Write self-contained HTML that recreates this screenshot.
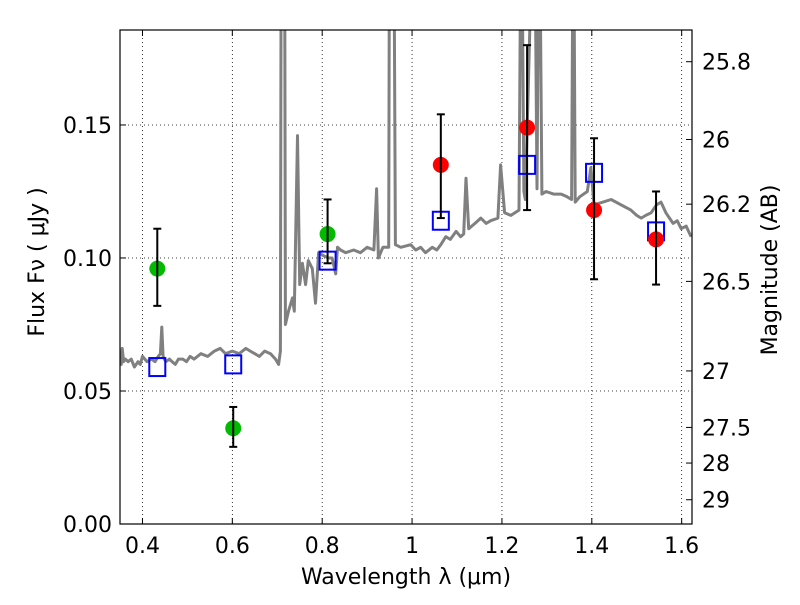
<!DOCTYPE html>
<html><head><meta charset="utf-8"><style>
body{margin:0;background:#fff;}
svg text{font-family:"DejaVu Sans","Liberation Sans",sans-serif;font-size:22px;fill:#000;}
</style></head><body>
<svg id="chart" width="800" height="600"></svg>
<script>
const specLam=[0.350,0.353,0.355,0.358,0.362,0.368,0.375,0.382,0.390,0.395,0.400,0.410,0.420,0.428,0.435,0.440,0.443,0.446,0.452,0.460,0.466,0.473,0.480,0.490,0.498,0.506,0.515,0.530,0.545,0.560,0.573,0.585,0.600,0.615,0.630,0.640,0.650,0.660,0.672,0.685,0.696,0.703,0.707,0.709,0.716,0.718,0.725,0.734,0.738,0.745,0.750,0.756,0.763,0.769,0.778,0.785,0.792,0.801,0.814,0.822,0.830,0.834,0.841,0.852,0.870,0.885,0.900,0.915,0.921,0.925,0.935,0.948,0.950,0.959,0.963,0.975,0.997,1.008,1.019,1.030,1.045,1.055,1.064,1.075,1.085,1.098,1.108,1.115,1.120,1.126,1.140,1.153,1.165,1.175,1.191,1.197,1.206,1.220,1.238,1.243,1.249,1.252,1.272,1.278,1.283,1.289,1.298,1.315,1.332,1.345,1.355,1.359,1.363,1.373,1.390,1.398,1.405,1.425,1.443,1.465,1.487,1.500,1.510,1.520,1.532,1.544,1.554,1.565,1.573,1.581,1.590,1.599,1.610,1.621];
const specFlux=[0.063,0.060,0.066,0.061,0.062,0.061,0.062,0.059,0.061,0.060,0.063,0.061,0.062,0.061,0.063,0.064,0.074,0.063,0.061,0.062,0.061,0.060,0.062,0.062,0.061,0.063,0.062,0.064,0.063,0.065,0.066,0.064,0.065,0.064,0.066,0.065,0.064,0.063,0.065,0.064,0.062,0.060,0.065,0.25,0.25,0.075,0.080,0.085,0.080,0.146,0.090,0.098,0.090,0.099,0.096,0.083,0.102,0.101,0.100,0.100,0.094,0.104,0.103,0.102,0.103,0.102,0.104,0.103,0.126,0.100,0.104,0.104,0.25,0.25,0.105,0.104,0.105,0.103,0.104,0.102,0.104,0.103,0.105,0.108,0.107,0.110,0.108,0.109,0.130,0.111,0.113,0.115,0.113,0.114,0.115,0.135,0.117,0.116,0.118,0.25,0.125,0.122,0.25,0.126,0.25,0.124,0.125,0.124,0.124,0.123,0.122,0.25,0.121,0.123,0.125,0.134,0.120,0.121,0.122,0.120,0.118,0.116,0.115,0.116,0.117,0.120,0.121,0.117,0.115,0.113,0.114,0.111,0.112,0.108];
const greenLam=[0.433,0.602,0.812];
const greenFlux=[0.096,0.036,0.109];
const greenLo=[0.082,0.029,0.098];
const greenHi=[0.111,0.044,0.122];
const redLam=[1.064,1.256,1.405,1.543];
const redFlux=[0.135,0.149,0.118,0.107];
const redLo=[0.115,0.118,0.092,0.090];
const redHi=[0.154,0.180,0.145,0.125];
const blueLam=[0.433,0.602,0.812,1.064,1.256,1.405,1.543];
const blueFlux=[0.059,0.060,0.099,0.114,0.135,0.132,0.110];
const xTicks=[0.4,0.6,0.8,1.0,1.2,1.4,1.6];
const xTickLabels=["0.4","0.6","0.8","1","1.2","1.4","1.6"];
const yTicks=[0,0.05,0.10,0.15];
const yTickLabels=["0.00","0.05","0.10","0.15"];
const magTicks=[25.8,26,26.2,26.5,27,27.5,28,29];
const magTickLabels=["25.8","26","26.2","26.5","27","27.5","28","29"];

const L=120,R=692,T=30,B=524;
const xMin=0.35,xMax=1.623,yMin=0,yMax=0.1857;
const sx=v=>L+(v-xMin)/(xMax-xMin)*(R-L);
const sy=v=>B-(v-yMin)/(yMax-yMin)*(B-T);
const NS="http://www.w3.org/2000/svg";
const svg=document.getElementById('chart');
function mk(tag,attrs,parent){const e=document.createElementNS(NS,tag);for(const k in attrs)e.setAttribute(k,attrs[k]);(parent||svg).appendChild(e);return e;}

const defs=mk('defs',{});
const cp=mk('clipPath',{id:'clip'},defs);
mk('rect',{x:L,y:T,width:R-L,height:B-T},cp);

xTicks.forEach((t,i)=>{
  const g=mk('line',{x1:sx(t),x2:sx(t),y1:T,y2:B,stroke:'#000','stroke-width':0.8,'stroke-dasharray':'1,3'});
  
  
  const tk=mk('line',{x1:sx(t),x2:sx(t),y1:B,y2:B-6,stroke:'#000'});
  
  
  const tk2=mk('line',{x1:sx(t),x2:sx(t),y1:T,y2:T+6,stroke:'#000'});
  
  
  const tx=mk('text',{x:sx(t),y:B+29,'text-anchor':'middle'});
  tx.textContent=xTickLabels[i];
  
  
});
yTicks.forEach((t,i)=>{
  if(t>0){
    const g=mk('line',{x1:L,x2:R,y1:sy(t),y2:sy(t),stroke:'#000','stroke-width':0.8,'stroke-dasharray':'1,3'});
    
    
  }
  const tk=mk('line',{x1:L,x2:L+6,y1:sy(t),y2:sy(t),stroke:'#000'});
  
  
  const tx=mk('text',{x:L-8,y:sy(t)+8,'text-anchor':'end'});
  tx.textContent=yTickLabels[i];
  
  
});
magTicks.forEach((m,i)=>{
  const f=Math.pow(10,(23.9-m)/2.5);
  const y=sy(f);
  const tk=mk('line',{x1:R,x2:R-6,y1:y,y2:y,stroke:'#000'});
  
  
  const tx=mk('text',{x:R+10,y:y+8,'text-anchor':'start'});
  tx.textContent=magTickLabels[i];
  
  
});

const sd=specLam.map((l,i)=>(i?'L':'M')+sx(l).toFixed(1)+','+sy(specFlux[i]).toFixed(1)).join(' ');
const sp=mk('path',{d:sd,fill:'none',stroke:'#808080','stroke-width':3,'clip-path':'url(#clip)','stroke-linejoin':'round'});



function errbar(x,lo,hi){
  const g=mk('g',{stroke:'#000','stroke-width':2});
  
  
  mk('line',{x1:sx(x),x2:sx(x),y1:sy(lo),y2:sy(hi)},g);
  mk('line',{x1:sx(x)-4,x2:sx(x)+4,y1:sy(lo),y2:sy(lo)},g);
  mk('line',{x1:sx(x)-4,x2:sx(x)+4,y1:sy(hi),y2:sy(hi)},g);
}
blueLam.forEach((l,i)=>{
  const r=mk('rect',{x:sx(l)-8,y:sy(blueFlux[i])-9,width:16,height:18,fill:'none',stroke:'#0000ff','stroke-width':2});
  
  
});
greenLam.forEach((l,i)=>{
  const c=mk('circle',{cx:sx(l),cy:sy(greenFlux[i]),r:8,fill:'#00bb00'});
  
  
  errbar(l,greenLo[i],greenHi[i]);
});
redLam.forEach((l,i)=>{
  const c=mk('circle',{cx:sx(l),cy:sy(redFlux[i]),r:8,fill:'#ff0000'});
  
  
  errbar(l,redLo[i],redHi[i]);
});

const fr=mk('rect',{x:L,y:T,width:R-L,height:B-T,fill:'none',stroke:'#000','stroke-width':1.2});



const xl=mk('text',{x:406,y:584,'text-anchor':'middle'});
xl.textContent='Wavelength  λ (μm)';


const yl=mk('text',{x:0,y:0,'text-anchor':'middle',transform:'translate(44,262) rotate(-90)'});
yl.textContent='Flux  Fν  ( μJy )';


const ml=mk('text',{x:0,y:0,'text-anchor':'middle',transform:'translate(777,270) rotate(-90)'});
ml.textContent='Magnitude (AB)';


</script>
</body></html>
